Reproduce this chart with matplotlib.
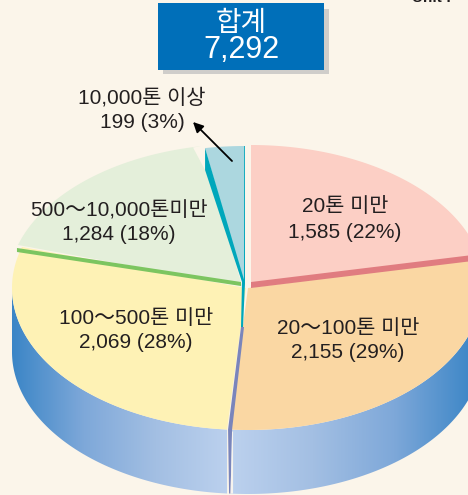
import numpy as np
import matplotlib
matplotlib.use("Agg")
import matplotlib.pyplot as plt
from matplotlib.colors import LinearSegmentedColormap
from matplotlib.patches import Polygon, Rectangle

LABEL_FONT = ["Liberation Sans", "Noto Sans CJK KR", "DejaVu Sans"]
plt.rcParams["font.family"] = ["Noto Sans CJK KR", "DejaVu Sans"]

# Data, clockwise from the top of the pie
categories = ["20톤 미만", "20～100톤 미만", "100～500톤 미만", "500～10,000톤미만", "10,000톤 이상"]
values = [1585, 2155, 2069, 1284, 199]
percents = [22, 29, 28, 18, 3]
total_label = "합계"
total_value = 7292

top_colors = ["#fccfc5", "#fad7a3", "#fef2b5", "#e4efda", "#acd7df"]
offsets = [(6, -1), (3, 0), (1, 0), (-3, -2), (0, 0)]

BG = "#fbf5ea"
CX, CY, RX, RY = 245, 288, 234, 142
DEPTH = 64

fractions = np.array(values) / sum(values)
edges = np.concatenate([[0], np.cumsum(fractions) * 360])


def rim(a1, a2, dx=0, dy=0):
    t = np.radians(np.linspace(a1, a2, 120))
    return np.column_stack([CX + dx + RX * np.sin(t), CY + dy - RY * np.cos(t)])


fig = plt.figure(figsize=(4.68, 4.95), dpi=100, facecolor=BG)
ax = fig.add_axes([0, 0, 1, 1])
ax.set_xlim(0, 468)
ax.set_ylim(495, 0)
ax.axis("off")

# Side of the pie, a gradient clipped to each outer wall
split = edges[2]
side_cmap = LinearSegmentedColormap.from_list("side", ["#3a85c6", "#7ea8d9", "#a3bfe3", "#bcd1ee"])

left_top = rim(split, 270, dx=1)
left_side = np.vstack([left_top, left_top[::-1] + [0, DEPTH]])
left_poly = Polygon(left_side, closed=True, transform=ax.transData, fc="none", ec="none")
ax.add_patch(left_poly)
grad = np.linspace(0, 1, 256).reshape(1, -1)
im = ax.imshow(grad, extent=(11, 229, 495, 280), cmap=side_cmap, aspect="auto", zorder=1)
im.set_clip_path(left_poly)

right_top = rim(90, split, dx=3)
right_side = np.vstack([right_top, right_top[::-1] + [0, DEPTH]])
right_poly = Polygon(right_side, closed=True, transform=ax.transData, fc="none", ec="none")
ax.add_patch(right_poly)
im = ax.imshow(grad[:, ::-1], extent=(231, 476, 495, 280), cmap=side_cmap, aspect="auto", zorder=1)
im.set_clip_path(right_poly)

# Top faces of the slices
for i, color in enumerate(top_colors):
    dx, dy = offsets[i]
    pts = np.vstack([[CX + dx, CY + dy], rim(edges[i], edges[i + 1], dx, dy)])
    ax.add_patch(Polygon(pts, closed=True, fc=color, ec="none", zorder=2))

ax.set_xlim(0, 468)
ax.set_ylim(495, 0)


def band(i_edge, dx, rim_dy, apex_dy, thick, color):
    # cut face below one slice edge
    end = rim(edges[i_edge], edges[i_edge], dx, rim_dy)[0]
    apex = np.array([CX + dx, CY + apex_dy])
    pts = [apex, end, end + [0, thick], apex + [0, thick]]
    ax.add_patch(Polygon(pts, closed=True, fc=color, ec="none", zorder=3))


band(1, 6, -5, -6, 6, "#e07c80")
band(3, -4, 1, -6, 4, "#7cc560")

# Gap left of the small slice, then its teal cut face
dx, dy = offsets[4]
blue_end = rim(edges[4], edges[4], dx, dy)[0]
blue_apex = np.array([CX + dx, CY + dy])
gap_pts = [rim(edges[4] - 3, edges[4] - 3, dx, dy)[0] + [0, -2], blue_end + [0, -3], blue_end + [0, 22]]
ax.add_patch(Polygon(gap_pts, closed=True, fc=BG, ec="none", zorder=3))
teal_pts = [blue_end, blue_end + [0, 22], blue_apex + [-3, -6], blue_apex + [-4, 39],
            blue_apex + [-2, 39], blue_apex + [0, -5]]
ax.add_patch(Polygon(teal_pts, closed=True, fc="#00a7bb", ec="none", zorder=4))
blue_right = rim(edges[5], edges[5], dx, dy)[0]
ax.add_patch(Polygon([blue_right, blue_right + [-0.8, 0], blue_apex + [-1, -5], blue_apex + [0, -5]],
                     closed=True, fc="#00a7bb", ec="none", zorder=4))

# Purple seam down the front, and the pale sliver beside it
low = rim(edges[2], edges[2], 1, 0)[0]
ax.add_patch(Polygon([blue_apex + [-4, 39], blue_apex + [-1, 39], low + [5, 0], low + [3.5, DEPTH],
                      low + [2, DEPTH], low + [1, 0]],
                     closed=True, fc="#7a85bb", ec="none", zorder=4))
ax.add_patch(Polygon([low + [3.5, DEPTH], low + [5, 2], low + [6, 2], low + [6, DEPTH]],
                     closed=True, fc="#f6f3ee", ec="none", zorder=4))

# Slice labels
label_pos = [(345, 207, 232), (348, 329, 353), (136, 318, 342), (119, 210, 234), (142, 98, 122)]
for i, (x, y1, y2) in enumerate(label_pos):
    ax.text(x, y1, categories[i], ha="center", va="center", fontsize=15, color="#231f20",
            family=LABEL_FONT, zorder=6)
    ax.text(x, y2, f"{values[i]:,} ({percents[i]}%)", ha="center", va="center",
            fontsize=15, color="#231f20", family=LABEL_FONT, zorder=6)

ax.annotate("", xy=(193, 122), xytext=(232, 161), zorder=6,
            arrowprops=dict(arrowstyle="-|>,head_width=0.3,head_length=0.6", color="black", lw=1.3,
                            shrinkA=0, shrinkB=0))

# Total box
ax.add_patch(Rectangle((163, 9), 166, 65, fc="#cfcdca", ec="none", zorder=5))
ax.add_patch(Rectangle((158, 3), 166, 67, fc="#006fb9", ec="none", zorder=6))
ax.text(241, 24, total_label, ha="center", va="center", fontsize=20, color="white",
        family=LABEL_FONT, zorder=7)
ax.text(241, 50, f"{total_value:,}", ha="center", va="center", fontsize=22, color="white",
        family=LABEL_FONT, zorder=7)

ax.text(412, 2, "Unit : ", ha="left", va="baseline", fontsize=11, color="#231f20",
        family=["Liberation Sans"], fontweight="bold")

fig.savefig("out.png", dpi=100, facecolor=BG)
